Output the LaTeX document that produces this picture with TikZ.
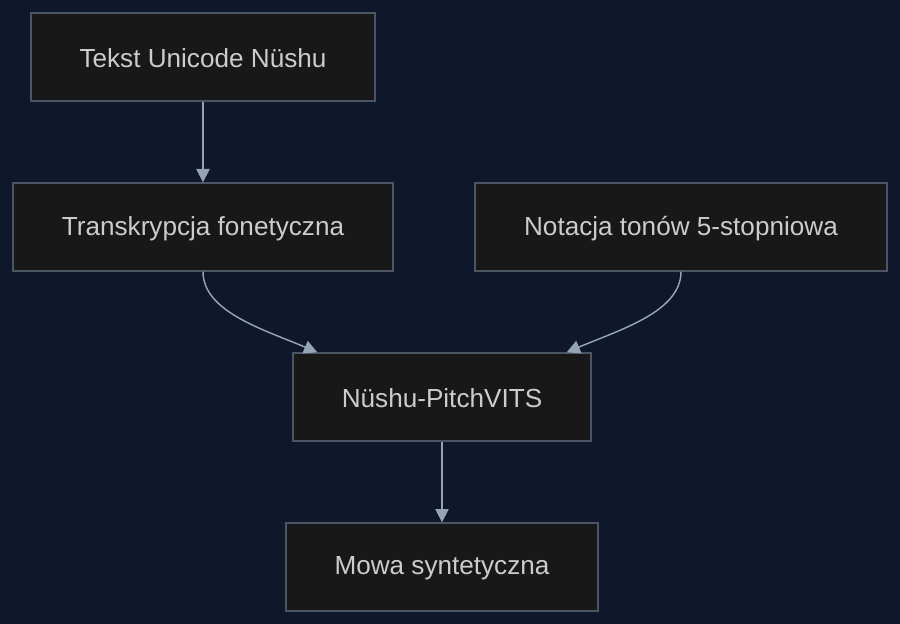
\documentclass[tikz,border=0pt]{standalone}
\usepackage{fontspec}
\setmainfont{Liberation Sans}
\usetikzlibrary{arrows.meta,calc}
\definecolor{bg}{HTML}{0F172A}
\definecolor{boxfill}{HTML}{181818}
\definecolor{boxline}{HTML}{4B5563}
\definecolor{txt}{HTML}{CCCCCC}
\definecolor{edge}{HTML}{94A3B8}
\begin{document}
\begin{tikzpicture}[x=0.75pt,y=-0.75pt,
  box/.style={draw=boxline,fill=boxfill,line width=1pt,minimum height=66pt,inner sep=0pt,text=txt,font=\fontsize{19.6pt}{23pt}\selectfont},
  lbl/.style={text=txt,inner sep=0pt,font=\fontsize{19.6pt}{23pt}\selectfont},
  conn/.style={draw=edge,line width=1.1pt,-{Triangle[length=10pt,width=10pt]}}]
\fill[bg] (0,0) rectangle (900,624);
\useasboundingbox (0,0) rectangle (900,624);
\node[box,minimum width=258pt] (a) at (203,57) {};
\node[box,minimum width=285pt] (b) at (203,227) {};
\node[box,minimum width=309pt] (c) at (681,227) {};
\node[box,minimum width=223.5pt] (d) at (442,397) {};
\node[box,minimum width=234pt] (e) at (442,567) {};
\node[lbl] (ta) at ($(a.center)+(0,1.5)$) {Tekst Unicode Nüshu};
\node[lbl] (tb) at ($(b.center)+(0,1.5)$) {Transkrypcja fonetyczna};
\node[lbl] (tc) at ($(c.center)+(0,1.5)$) {Notacja tonów 5-stopniowa};
\node[lbl] (td) at ($(d.center)+(0,1.5)$) {Nüshu-PitchVITS};
\node[lbl] (te) at ($(e.center)+(0,1.5)$) {Mowa syntetyczna};
\coordinate (dl) at ($(d.north west)+(25,0)$);
\coordinate (dr) at ($(d.north east)+(-25,0)$);
\draw[conn] (a.south) -- (b.south |- b.north);
\draw[conn] (b.south) .. controls (203,312) and (265,330) .. (dl);
\draw[conn] (c.south) .. controls (681,312) and (619,330) .. (dr);
\draw[conn] (d.south) -- (e.north);
\end{tikzpicture}
\end{document}
